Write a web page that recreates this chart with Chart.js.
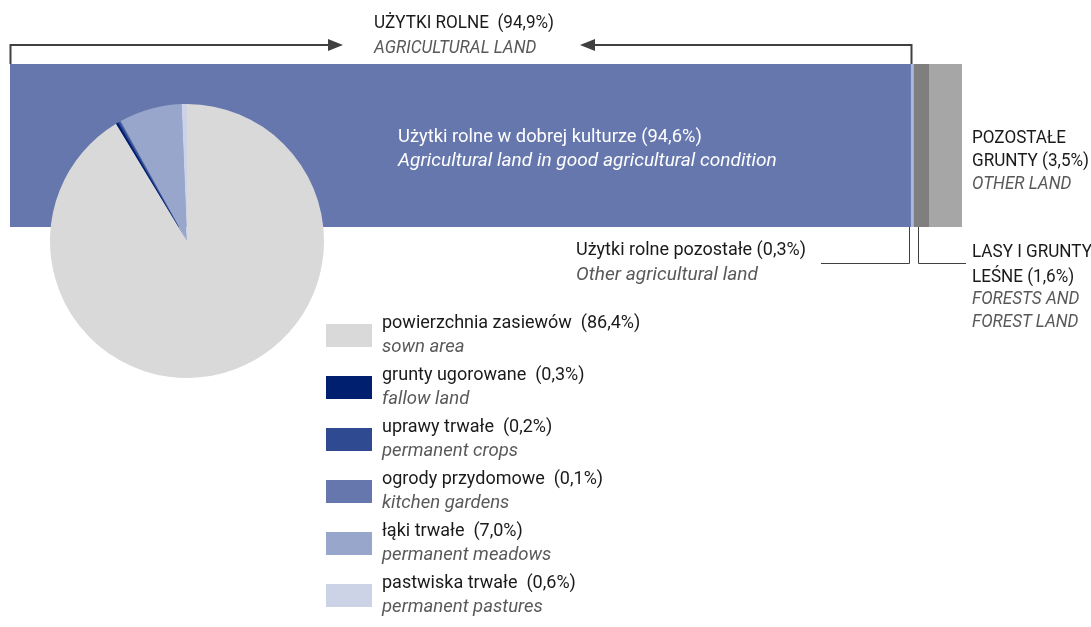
<!DOCTYPE html>
<html><head><meta charset="utf-8">
<script src="https://cdn.jsdelivr.net/npm/chart.js@4"></script>
<style>
html,body{margin:0;padding:0;background:#fff;}
body{width:1091px;height:627px;position:relative;overflow:hidden;font-family:Roboto,"Noto Sans",sans-serif;color:#1a1a1a;}
.abs{position:absolute;}
.t{font-size:18px;line-height:24px;white-space:nowrap;transform-origin:0 0;}
.i{font-style:italic;color:#595959;}
.caps{transform:scaleX(0.95);}
.wi{transform:scaleX(1.06);}
#barWrap{left:10px;top:64px;width:952px;height:163px;}
#pieWrap{left:50px;top:104px;width:274px;height:274px;}
.sw{position:absolute;left:326px;width:46px;height:23px;}
.lt{position:absolute;left:382px;font-size:18px;line-height:23px;white-space:nowrap;transform-origin:0 0;}
.lt.i{transform:scaleX(1.03);}
</style></head><body>
<div id="barWrap" class="abs"><canvas id="bar"></canvas></div>
<div id="pieWrap" class="abs"><canvas id="pie"></canvas></div>
<svg class="abs" style="left:0;top:0" width="1091" height="627">
  <g stroke="#404040" fill="none">
    <polyline points="10.5,64 10.5,45 330,45" stroke-width="2"/>
    <polyline points="911.5,64 911.5,45 594,45" stroke-width="2"/>
    <polyline points="909.5,227 909.5,263.5 821,263.5" stroke-width="1"/>
    <polyline points="918.5,227 918.5,263.5 966,263.5" stroke-width="1"/>
  </g>
  <polygon points="343,45 328,39 328,51" fill="#404040"/>
  <polygon points="580,45 595,39 595,51" fill="#404040"/>
</svg>
<div class="abs t caps" style="left:374px;top:10px;">UŻYTKI ROLNE&nbsp; (94,9%)</div>
<div class="abs t i caps" style="left:374px;top:35px;">AGRICULTURAL LAND</div>
<div class="abs t" style="left:398px;top:124px;color:#fff;transform:scaleX(1.02);">Użytki rolne w dobrej kulturze (94,6%)</div>
<div class="abs t wi" style="left:398px;top:148px;color:#fff;font-style:italic;">Agricultural land in good agricultural condition</div>
<div class="abs t" style="left:576px;top:237px;">Użytki rolne pozostałe (0,3%)</div>
<div class="abs t i wi" style="left:576px;top:262px;">Other agricultural land</div>
<div class="abs t caps" style="left:972px;top:125px;line-height:23px;">POZOSTAŁE<br>GRUNTY (3,5%)</div>
<div class="abs t i caps" style="left:972px;top:171px;line-height:23px;">OTHER LAND</div>
<div class="abs t caps" style="left:972px;top:238px;line-height:25px;">LASY I GRUNTY<br>LEŚNE (1,6%)</div>
<div class="abs t i caps" style="left:972px;top:286px;line-height:23px;">FORESTS AND<br>FOREST LAND</div>
<div id="legend"></div>
<script>
const barLabels = ["Użytki rolne w dobrej kulturze","Użytki rolne pozostałe","Lasy i grunty leśne","Pozostałe grunty"];
const barValues = [94.6, 0.3, 1.6, 3.5];
const barColors = ["#6677ad","#aab6df","#7f7f7f","#a6a6a6"];

const pieLabels = ["powierzchnia zasiewów","grunty ugorowane","uprawy trwałe","ogrody przydomowe","łąki trwałe","pastwiska trwałe"];
const pieLabelsEn = ["sown area","fallow land","permanent crops","kitchen gardens","permanent meadows","permanent pastures"];
const pieValues = [86.4, 0.3, 0.2, 0.1, 7.0, 0.6];
const pieColors = ["#d9d9d9","#001f6e","#304a91","#6677ad","#98a6cc","#cdd3e6"];

const fmt = v => v.toFixed(1).replace('.', ',');

new Chart(document.getElementById('bar'), {
  type: 'bar',
  data: {
    labels: [''],
    datasets: barValues.map((v,i)=>({label: barLabels[i], data:[v], backgroundColor: barColors[i], borderWidth:0, barPercentage:1, categoryPercentage:1}))
  },
  options: {
    indexAxis: 'y', responsive: true, maintainAspectRatio: false, animation: false,
    layout: {padding: 0},
    plugins: {legend: {display:false}, tooltip: {enabled:false}},
    scales: {
      x: {stacked:true, min:0, max:100, display:false},
      y: {stacked:true, display:false}
    }
  }
});

new Chart(document.getElementById('pie'), {
  type: 'pie',
  data: {labels: pieLabels, datasets: [{data: pieValues, backgroundColor: pieColors, borderWidth: 0}]},
  options: {
    responsive: true, maintainAspectRatio: false, animation: false,
    layout: {padding: 0},
    plugins: {legend: {display:false}, tooltip: {enabled:false}}
  }
});

const lg = document.getElementById('legend');
pieLabels.forEach((l,i)=>{
  const y = 324 + i*52;
  const sw = document.createElement('div');
  sw.className = 'sw'; sw.style.top = y+'px'; sw.style.background = pieColors[i];
  lg.appendChild(sw);
  const t1 = document.createElement('div');
  t1.className = 'lt'; t1.style.top = (y-14)+'px';
  t1.textContent = l + '\u00a0 (' + fmt(pieValues[i]) + '%)';
  lg.appendChild(t1);
  const t2 = document.createElement('div');
  t2.className = 'lt i'; t2.style.top = (y+10)+'px';
  t2.textContent = pieLabelsEn[i];
  lg.appendChild(t2);
});
</script>
</body></html>
